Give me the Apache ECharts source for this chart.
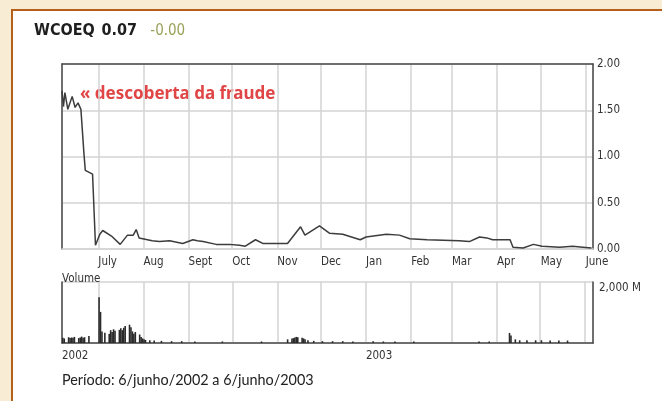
<!DOCTYPE html>
<html>
<head>
<meta charset="utf-8">
<script src="https://cdn.jsdelivr.net/npm/echarts@6/dist/echarts.min.js"></script>
<style>
html, body { margin: 0; padding: 0; background: #f8ecd4; }
#chart { width: 662px; height: 401px; }
</style>
</head>
<body>
<div id="chart"></div>
<script>
// header
const ticker = 'WCOEQ'
const lastPrice = '0.07'
const change = '-0.00'
const note = '« descoberta da fraude'
const period = 'Período: 6/junho/2002 a 6/junho/2003'

const monthNames = ['Jan', 'Feb', 'Mar', 'Apr', 'May', 'June', 'July', 'Aug', 'Sept', 'Oct', 'Nov', 'Dec']
const priceTicks = [0, 0.5, 1, 1.5, 2]
const volumeMax = 2000

// cotação (US$)
const priceDates = [
  '2002-06-06', '2002-06-07', '2002-06-08', '2002-06-10', '2002-06-13', '2002-06-15', '2002-06-17', '2002-06-19',
  '2002-06-21', '2002-06-22', '2002-06-27', '2002-06-28', '2002-06-29', '2002-07-02', '2002-07-04', '2002-07-05',
  '2002-07-10', '2002-07-16', '2002-07-21', '2002-07-25', '2002-07-27', '2002-07-29', '2002-08-07', '2002-08-12',
  '2002-08-19', '2002-08-28', '2002-09-04', '2002-09-07', '2002-09-11', '2002-09-20', '2002-09-29', '2002-10-06',
  '2002-10-10', '2002-10-17', '2002-10-22', '2002-11-08', '2002-11-17', '2002-11-20', '2002-11-30', '2002-12-07',
  '2002-12-16', '2002-12-28', '2003-01-01', '2003-01-15', '2003-01-24', '2003-01-31', '2003-02-12', '2003-03-06',
  '2003-03-13', '2003-03-20', '2003-03-25', '2003-03-29', '2003-04-10', '2003-04-12', '2003-04-19', '2003-04-26',
  '2003-05-02', '2003-05-14', '2003-05-23', '2003-05-30', '2003-06-05'
]
const priceValues = [
  1.71, 1.54, 1.69, 1.51, 1.65, 1.53, 1.58, 1.51,
  1.05, 0.85, 0.81, 0.80, 0.04, 0.16, 0.20, 0.21,
  0.14, 0.05, 0.15, 0.15, 0.21, 0.12, 0.09, 0.08,
  0.09, 0.06, 0.10, 0.09, 0.08, 0.05, 0.05, 0.04,
  0.03, 0.10, 0.06, 0.06, 0.24, 0.15, 0.25, 0.17,
  0.16, 0.10, 0.13, 0.16, 0.15, 0.11, 0.10, 0.09,
  0.08, 0.13, 0.12, 0.10, 0.10, 0.02, 0.01, 0.05,
  0.03, 0.02, 0.03, 0.02, 0.01
]

// volume (milhões)
const volumeDates = [
  '2002-06-06', '2002-06-07', '2002-06-10', '2002-06-11', '2002-06-12', '2002-06-13', '2002-06-14', '2002-06-17',
  '2002-06-18', '2002-06-19', '2002-06-20', '2002-06-21', '2002-06-24', '2002-07-01', '2002-07-02', '2002-07-03',
  '2002-07-05', '2002-07-08', '2002-07-09', '2002-07-10', '2002-07-11', '2002-07-12', '2002-07-15', '2002-07-16',
  '2002-07-17', '2002-07-18', '2002-07-19', '2002-07-22', '2002-07-23', '2002-07-24', '2002-07-25', '2002-07-26',
  '2002-07-29', '2002-07-30', '2002-07-31', '2002-08-01', '2002-08-02', '2002-08-05', '2002-08-08', '2002-08-13',
  '2002-08-20', '2002-08-27', '2002-09-05', '2002-09-24', '2002-10-21', '2002-11-08', '2002-11-11', '2002-11-12',
  '2002-11-13', '2002-11-14', '2002-11-15', '2002-11-18', '2002-11-19', '2002-11-20', '2002-11-22', '2002-11-26',
  '2002-12-02', '2002-12-09', '2002-12-16', '2002-12-23', '2003-01-06', '2003-01-13', '2003-01-21', '2003-02-03',
  '2003-03-20', '2003-03-27', '2003-04-10', '2003-04-11', '2003-04-14', '2003-04-17', '2003-04-22', '2003-04-28',
  '2003-05-02', '2003-05-08', '2003-05-14', '2003-05-20'
]
const volumeValues = [
  170, 150, 190, 160, 180, 170, 200, 160,
  180, 210, 170, 190, 230, 1500, 1020, 380,
  340, 300, 420, 360, 450, 400, 430, 480,
  420, 500, 560, 600, 520, 380, 300, 360,
  280, 200, 150, 120, 100, 90, 80, 70,
  60, 60, 50, 50, 50, 120, 150, 160,
  180, 200, 190, 170, 150, 120, 90, 70,
  60, 60, 60, 50, 60, 50, 50, 50,
  50, 50, 330, 250, 120, 90, 90, 90,
  90, 80, 80, 80
]

const startDate = +new Date(2002, 5, 6)
const endDate = +new Date(2003, 5, 6)
const axisFont = "'DejaVu Sans Condensed', 'Liberation Sans Narrow', sans-serif"
const gridColor = '#d3d3d3'
const frameColor = '#4a4a4a'

const monthLabel = (v) => {
  const d = new Date(v)
  return d.getDate() === 1 ? monthNames[d.getMonth()] : ''
}
const yearLabel = (v) => {
  const d = new Date(v)
  return d.getDate() === 1 && d.getMonth() === 0 ? String(d.getFullYear()) : ''
}

const timeAxis = (gridIndex, extra) => Object.assign({
  type: 'time',
  gridIndex: gridIndex,
  min: startDate,
  max: endDate,
  splitNumber: 12,
  minInterval: 28 * 86400000,
  maxInterval: 31 * 86400000,
  axisTick: { show: false },
}, extra)

const chart = echarts.init(document.getElementById('chart'))
chart.setOption({
  backgroundColor: '#f8ecd4',
  animation: false,
  graphic: [
    {
      type: 'rect',
      z: -10,
      shape: { x: 12, y: 10, width: 700, height: 450 },
      style: { fill: '#ffffff', stroke: '#b4601a', lineWidth: 2 },
    },
    {
      type: 'text',
      left: 34,
      top: 23,
      style: {
        text: '{a|' + ticker + '}  {a|' + lastPrice + '}    {b|' + change + '}',
        rich: {
          a: { fontFamily: axisFont, fontWeight: 'bold', fontSize: 16, fill: '#1e1e1e' },
          b: { fontFamily: axisFont, fontSize: 15, fill: '#9aa25a' },
        },
      },
    },
    {
      type: 'text',
      left: 80,
      top: 86,
      style: { text: note, fontFamily: "'Noto Sans', sans-serif", fontWeight: 'bold', fontSize: 17, fill: '#e04646' },
    },
    {
      type: 'text',
      left: 62,
      top: 373,
      style: { text: period, fontFamily: 'Lato, sans-serif', fontSize: 14.4, fill: '#222' },
    },
  ],
  grid: [
    { left: 62, right: 69, top: 64, height: 185 },
    { left: 62, right: 69, top: 282, height: 61 },
  ],
  xAxis: [
    timeAxis(0, {
      position: 'bottom',
      axisLine: { lineStyle: { color: gridColor, width: 1.5 } },
      splitLine: { show: true, lineStyle: { color: gridColor, width: 1.5 } },
      axisLabel: {
        interval: 0, formatter: monthLabel, align: 'left', margin: 7,
        fontFamily: axisFont, fontSize: 11.5, color: '#333',
      },
    }),
    timeAxis(0, {
      position: 'top',
      axisLine: { onZero: false, lineStyle: { color: frameColor, width: 1.5 } },
      splitLine: { show: false },
      axisLabel: { show: false },
    }),
    timeAxis(1, {
      position: 'bottom',
      // first year sits at the left end of the axis
      name: String(new Date(startDate).getFullYear()),
      nameLocation: 'start',
      nameGap: 0,
      nameTextStyle: {
        align: 'left', verticalAlign: 'top', padding: [7, 0, 0, 0],
        fontFamily: axisFont, fontSize: 11.5, color: '#333',
      },
      axisLine: { lineStyle: { color: frameColor, width: 1.5 } },
      splitLine: { show: true, lineStyle: { color: gridColor, width: 1.5 } },
      axisLabel: {
        interval: 0, formatter: yearLabel, align: 'left', margin: 7,
        fontFamily: axisFont, fontSize: 11.5, color: '#333',
      },
    }),
  ],
  yAxis: [
    {
      type: 'value',
      gridIndex: 0,
      position: 'right',
      min: priceTicks[0],
      max: priceTicks[priceTicks.length - 1],
      interval: 0.5,
      axisLine: { show: true, onZero: false, lineStyle: { color: frameColor, width: 1.5 } },
      axisTick: { show: false },
      splitLine: { lineStyle: { color: gridColor, width: 1.5 } },
      axisLabel: { formatter: (v) => v.toFixed(2), margin: 4, fontFamily: axisFont, fontSize: 11.5, color: '#333' },
    },
    {
      type: 'value',
      gridIndex: 0,
      position: 'left',
      min: 0,
      max: 2,
      axisLine: { show: true, onZero: false, lineStyle: { color: frameColor, width: 1.5 } },
      axisTick: { show: false },
      axisLabel: { show: false },
      splitLine: { show: false },
    },
    {
      type: 'value',
      gridIndex: 1,
      position: 'right',
      min: 0,
      max: volumeMax,
      interval: volumeMax,
      axisLine: { show: true, onZero: false, lineStyle: { color: frameColor, width: 1.5 } },
      axisTick: { show: false },
      splitLine: { lineStyle: { color: gridColor, width: 1.5 } },
      axisLabel: {
        formatter: (v) => (v === volumeMax ? '2,000 M' : ''),
        verticalAlign: 'top', margin: 6, fontFamily: axisFont, fontSize: 11.5, color: '#333',
      },
    },
    {
      type: 'value',
      gridIndex: 1,
      position: 'left',
      min: 0,
      max: volumeMax,
      name: 'Volume',
      nameLocation: 'end',
      nameGap: 0,
      nameTextStyle: { align: 'left', verticalAlign: 'bottom', fontFamily: axisFont, fontSize: 11.5, color: '#333', padding: [0, 0, -3, 0] },
      axisLine: { show: true, onZero: false, lineStyle: { color: frameColor, width: 1.5 } },
      axisTick: { show: false },
      axisLabel: { show: false },
      splitLine: { show: false },
    },
  ],
  series: [
    {
      type: 'line',
      xAxisIndex: 0,
      yAxisIndex: 0,
      data: priceDates.map((d, i) => [d, priceValues[i]]),
      showSymbol: false,
      lineStyle: { color: '#3c3c3c', width: 1.5 },
    },
    {
      type: 'bar',
      xAxisIndex: 2,
      yAxisIndex: 2,
      data: volumeDates.map((d, i) => [d, volumeValues[i]]),
      barWidth: 1.6,
      itemStyle: { color: '#2a2a2a' },
    },
  ],
})
</script>
</body>
</html>
